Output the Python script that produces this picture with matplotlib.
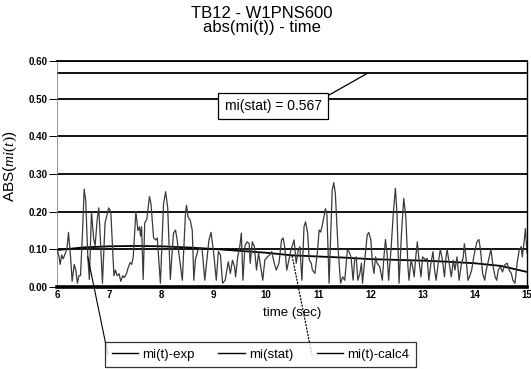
import numpy as np
import matplotlib
matplotlib.use("Agg")
import matplotlib.pyplot as plt

# -------------------------------------------------------------------
# DATA
# -------------------------------------------------------------------
t_exp = [6.00, 6.04, 6.06, 6.09, 6.12, 6.16, 6.19, 6.22, 6.26, 6.29, 6.33, 6.36,
         6.39, 6.42, 6.45, 6.49, 6.52, 6.55, 6.59, 6.62, 6.66, 6.70, 6.73, 6.77,
         6.80, 6.84, 6.87, 6.92, 6.99, 7.03, 7.09, 7.12, 7.15, 7.19, 7.22, 7.26,
         7.29, 7.33, 7.36, 7.40, 7.43, 7.46, 7.51, 7.55, 7.58, 7.60, 7.62, 7.65,
         7.68, 7.72, 7.77, 7.80, 7.85, 7.89, 7.92, 7.98, 8.04, 8.08, 8.12, 8.17,
         8.23, 8.27, 8.30, 8.40, 8.46, 8.48, 8.51, 8.55, 8.59, 8.62, 8.65, 8.70,
         8.74, 8.78, 8.83, 8.91, 8.95, 9.00, 9.05, 9.09, 9.13, 9.17, 9.22, 9.26,
         9.28, 9.32, 9.36, 9.40, 9.42, 9.46, 9.50, 9.53, 9.56, 9.60, 9.64, 9.68,
         9.70, 9.74, 9.78, 9.82, 9.86, 9.90, 9.94, 9.98, 10.03, 10.07, 10.11, 10.16,
         10.20, 10.25, 10.30, 10.33, 10.36, 10.40, 10.44, 10.48, 10.54, 10.58, 10.62,
         10.65, 10.69, 10.73, 10.76, 10.80, 10.83, 10.87, 10.89, 10.94, 10.99, 11.02,
         11.05, 11.08, 11.11, 11.14, 11.17, 11.21, 11.27, 11.30, 11.33, 11.38, 11.43,
         11.47, 11.51, 11.56, 11.59, 11.63, 11.67, 11.70, 11.73, 11.76, 11.80, 11.83,
         11.85, 11.90, 11.94, 11.97, 12.01, 12.04, 12.07, 12.10, 12.13, 12.18, 12.23,
         12.26, 12.29, 12.32, 12.35, 12.40, 12.44, 12.48, 12.51, 12.55, 12.60, 12.64,
         12.68, 12.72, 12.74, 12.78, 12.81, 12.84, 12.87, 12.90, 12.93, 12.97, 13.00,
         13.06, 13.09, 13.12, 13.16, 13.20, 13.23, 13.26, 13.30, 13.34, 13.38, 13.42,
         13.45, 13.47, 13.51, 13.55, 13.59, 13.62, 13.66, 13.70, 13.74, 13.78, 13.80,
         13.83, 13.87, 13.90, 13.94, 13.98, 14.04, 14.08, 14.11, 14.15, 14.19, 14.22,
         14.25, 14.28, 14.31, 14.35, 14.39, 14.42, 14.45, 14.49, 14.53, 14.58, 14.62,
         14.66, 14.70, 14.73, 14.77, 14.81, 14.85, 14.89, 14.91, 14.94, 14.97, 15.00]
v_exp = [0.100, 0.080, 0.060, 0.085, 0.075, 0.090, 0.100, 0.145, 0.080, 0.015, 0.060, 0.045,
         0.010, 0.030, 0.030, 0.150, 0.260, 0.230, 0.080, 0.020, 0.200, 0.130, 0.110, 0.180,
         0.210, 0.100, 0.010, 0.170, 0.210, 0.200, 0.030, 0.045, 0.030, 0.035, 0.015, 0.030,
         0.025, 0.035, 0.050, 0.065, 0.060, 0.080, 0.200, 0.150, 0.160, 0.135, 0.160, 0.020,
         0.170, 0.180, 0.240, 0.220, 0.130, 0.125, 0.130, 0.010, 0.220, 0.253, 0.210, 0.020,
         0.143, 0.151, 0.125, 0.018, 0.196, 0.217, 0.186, 0.178, 0.150, 0.018, 0.072, 0.098,
         0.105, 0.098, 0.018, 0.125, 0.145, 0.090, 0.018, 0.094, 0.085, 0.010, 0.018, 0.050,
         0.067, 0.036, 0.071, 0.054, 0.027, 0.080, 0.107, 0.143, 0.018, 0.110, 0.120, 0.115,
         0.063, 0.120, 0.107, 0.045, 0.090, 0.054, 0.018, 0.072, 0.080, 0.085, 0.094, 0.063,
         0.045, 0.063, 0.125, 0.130, 0.107, 0.045, 0.072, 0.098, 0.125, 0.063, 0.098,
         0.107, 0.018, 0.160, 0.173, 0.143, 0.072, 0.063, 0.045, 0.036, 0.098, 0.151,
         0.146, 0.164, 0.186, 0.208, 0.190, 0.010, 0.257, 0.277, 0.248, 0.107, 0.010,
         0.027, 0.018, 0.098, 0.094, 0.080, 0.018, 0.072, 0.080, 0.018, 0.036, 0.063,
         0.010, 0.080, 0.138, 0.145, 0.125, 0.063, 0.036, 0.080, 0.063, 0.054, 0.018,
         0.080, 0.126, 0.090, 0.018, 0.107, 0.196, 0.262, 0.196, 0.010, 0.151, 0.235,
         0.186, 0.054, 0.018, 0.072, 0.054, 0.027, 0.080, 0.120, 0.072, 0.027, 0.080,
         0.072, 0.076, 0.018, 0.063, 0.094, 0.045, 0.018, 0.063, 0.100, 0.072, 0.027,
         0.080, 0.100, 0.063, 0.027, 0.071, 0.045, 0.080, 0.018, 0.058, 0.080, 0.115,
         0.080, 0.018, 0.027, 0.045, 0.080, 0.120, 0.126, 0.098, 0.036, 0.018, 0.045,
         0.063, 0.080, 0.100, 0.054, 0.027, 0.018, 0.045, 0.054, 0.040, 0.060, 0.063,
         0.045, 0.036, 0.018, 0.010, 0.063, 0.098, 0.107, 0.080, 0.115, 0.155, 0.090]

t_calc = [6.0, 6.5, 7.0, 7.5, 8.0, 8.5, 9.0, 9.5, 10.0, 10.5,
          11.0, 11.5, 12.0, 12.5, 13.0, 13.5, 14.0, 14.5, 15.0]
v_calc = [0.098, 0.105, 0.108, 0.109, 0.108, 0.105, 0.101, 0.096, 0.091, 0.084,
          0.081, 0.078, 0.074, 0.072, 0.070, 0.067, 0.063, 0.056, 0.040]

t_stat = [6.0, 15.0]
v_stat = [0.567, 0.567]

x_ticks = [6, 7, 8, 9, 10, 11, 12, 13, 14, 15]
y_ticks = [0.0, 0.1, 0.2, 0.3, 0.4, 0.5, 0.6]

title = "TB12 - W1PNS600\nabs(mi(t)) - time"
stat_label = "mi(stat) = 0.567"

# -------------------------------------------------------------------
# STYLE
# -------------------------------------------------------------------
plt.rcParams["font.family"] = ["Liberation Sans", "DejaVu Sans"]
plt.rcParams["mathtext.fontset"] = "custom"
plt.rcParams["mathtext.rm"] = "Liberation Serif"
plt.rcParams["mathtext.it"] = "Liberation Serif:italic"

fig = plt.figure(figsize=(5.31, 3.69), dpi=100)
ax = fig.add_axes([57 / 531, 82 / 369, 470 / 531, 226 / 369])

# gridlines
for y in y_ticks[1:]:
    ax.axhline(y, color="black", lw=1.3, zorder=1)

line_exp, = ax.plot(t_exp, v_exp, color="#3a3a3a", lw=0.9, zorder=3, label="mi(t)-exp")
line_stat, = ax.plot(t_stat, v_stat, color="black", lw=1.3, zorder=2, label="mi(stat)")
line_calc, = ax.plot(t_calc, v_calc, color="black", lw=1.3, zorder=2, label="mi(t)-calc4")

ax.set_xlim(6, 15)
ax.set_ylim(0, 0.6)
ax.set_xticks(x_ticks)
ax.set_yticks(y_ticks)
ax.set_yticklabels([f"{v:.2f}" for v in y_ticks], fontsize=7, fontweight="bold")
ax.set_xticklabels([str(v) for v in x_ticks], fontsize=7, fontweight="bold")
ax.tick_params(axis="x", length=0, pad=2)
ax.tick_params(axis="y", length=6, width=0.7, pad=1)

ax.spines["bottom"].set_linewidth(2.6)
ax.spines["left"].set_linewidth(0.6)
ax.spines["left"].set_color("#888888")
ax.spines["right"].set_linewidth(1.0)
ax.spines["top"].set_linewidth(1.3)

ax.set_xlabel("time (sec)", fontsize=9.5, labelpad=5)
ax.set_ylabel(r"ABS($mi(t)$)", fontsize=11)
ax.yaxis.set_label_coords(-0.08, 0.535)

fig.text(262 / 531, 1 - 6 / 369, title, ha="center", va="top",
         fontsize=12, linespacing=0.95)

# stat annotation box
ax.annotate(stat_label, xy=(11.94, v_stat[0]), xytext=(10.14, 0.48),
            ha="center", va="center", fontsize=10,
            bbox=dict(boxstyle="square,pad=0.45", fc="white", ec="black", lw=0.9),
            arrowprops=dict(arrowstyle="-", color="black", lw=0.9,
                            relpos=(1.0, 1.0), shrinkA=0, shrinkB=0))

# legend at bottom
leg = fig.legend(handles=[line_exp, line_stat, line_calc], ncol=3,
                 loc="upper center", bbox_to_anchor=(260.5 / 531, 1 - 342 / 369),
                 fontsize=9.5, frameon=True, fancybox=False, handlelength=2.0,
                 handletextpad=0.3, columnspacing=1.8, borderpad=0.5,
                 borderaxespad=0)
leg.get_frame().set_edgecolor("black")
leg.get_frame().set_linewidth(0.9)
for h in leg.legend_handles:
    h.set_color("black")
    h.set_linewidth(1.0)

# leader lines from legend to the curves
ax.annotate("", xy=(t_exp[18], v_exp[18]), xycoords="data",
            xytext=(108, 369 - 355), textcoords="figure pixels",
            arrowprops=dict(arrowstyle="-", color="black", lw=0.8,
                            shrinkA=0, shrinkB=0), annotation_clip=False)
ax.annotate("", xy=(t_calc[9], v_calc[9]), xycoords="data",
            xytext=(312, 369 - 355), textcoords="figure pixels",
            arrowprops=dict(arrowstyle="-", color="black", lw=0.9, ls=":",
                            shrinkA=0, shrinkB=0), annotation_clip=False)

fig.savefig("out.png", dpi=100)
